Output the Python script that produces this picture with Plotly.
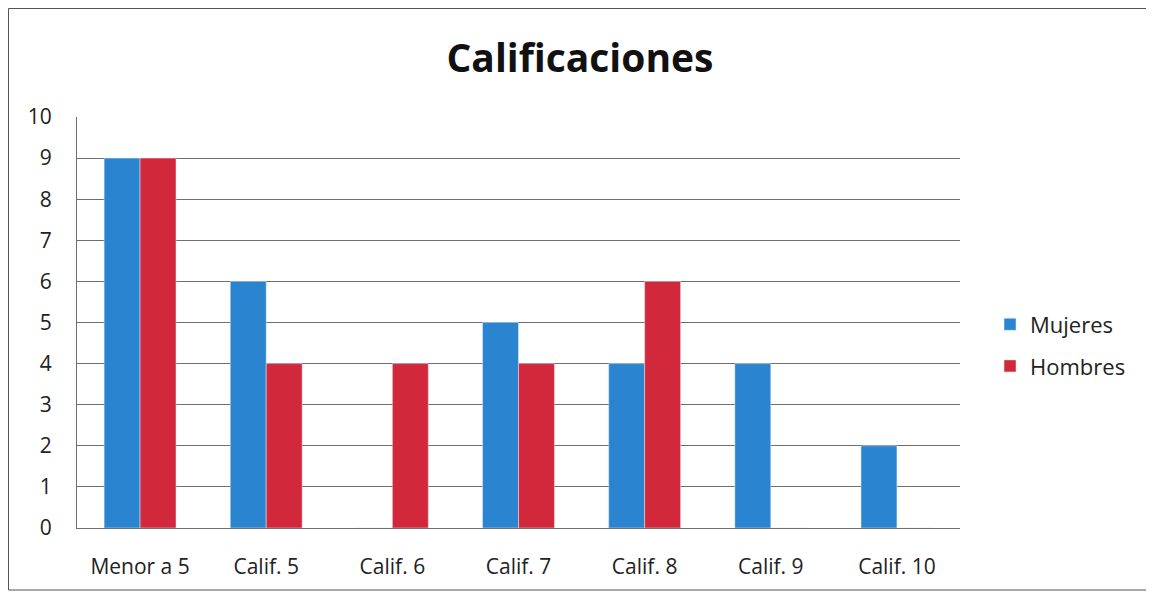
import plotly.graph_objects as go

categories = ["Menor a 5", "Calif. 5", "Calif. 6", "Calif. 7", "Calif. 8", "Calif. 9", "Calif. 10"]
mujeres = [9, 6, 0, 5, 4, 4, 2]
hombres = [9, 4, 4, 4, 6, 0, 0]
y_ticks = list(range(0, 11))

FONT = "Open Sans, sans-serif"

W, H = 1146, 585
L, T, R, B = 69, 109, 194, 65
PW, PH = W - L - R, H - T - B

fig = go.Figure()
fig.add_trace(go.Bar(x=categories, y=mujeres, name="Mujeres", marker_color="#2a84d0",
                     legendgroup="m"))
fig.add_trace(go.Bar(x=categories, y=hombres, name="Hombres", marker_color="#d1283b",
                     legendgroup="h"))

fig.update_layout(
    width=W, height=H,
    margin=dict(l=L, r=R, t=T, b=B),
    paper_bgcolor="white", plot_bgcolor="white",
    barmode="group", bargap=0.43, bargroupgap=0,
    font=dict(family=FONT, size=21, color="#222"),
    title=dict(text="<b>Calificaciones</b>", x=(580 - 8) / W, xanchor="center",
               y=1 - 50 / H, yanchor="middle",
               font=dict(family=FONT, size=39, color="#111")),
    legend=dict(x=1.034, xanchor="left", y=0.444, yanchor="middle",
                tracegroupgap=10, font=dict(size=22, color="#222"),
                itemwidth=30, bgcolor="rgba(0,0,0,0)"),
    showlegend=True,
)
fig.update_yaxes(range=[0, 10], tickvals=y_ticks, showgrid=True, gridcolor="#6f6f6f",
                 gridwidth=1, showline=True, linecolor="#6f6f6f", linewidth=1,
                 ticks="", ticklabelstandoff=20, zeroline=False)
fig.update_xaxes(showline=True, linecolor="#6f6f6f", linewidth=1, ticks="",
                 ticklabelstandoff=20)

fig.add_shape(type="rect", xref="paper", yref="paper",
              x0=(0.5 - L) / PW, x1=(1140 - L) / PW,
              y0=(PH + T - 582) / PH, y1=(PH + T - 0.5) / PH,
              line=dict(color="#555", width=1), layer="below")

fig.write_html("out.html")
